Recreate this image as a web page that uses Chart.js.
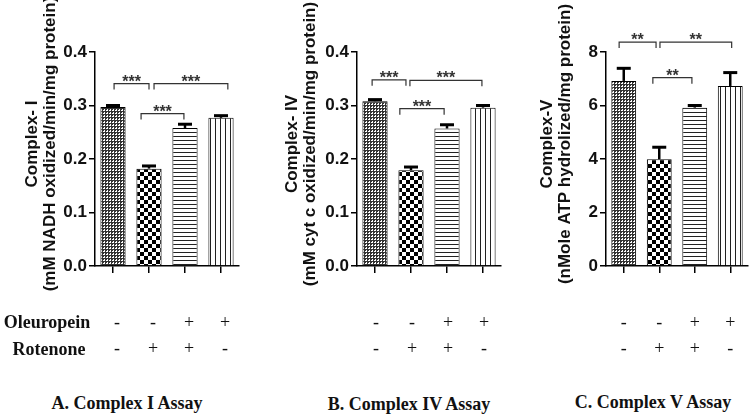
<!DOCTYPE html>
<html>
<head>
<meta charset="utf-8">
<script src="https://cdn.jsdelivr.net/npm/chart.js@4.4.1/dist/chart.umd.min.js"></script>
<style>
  html, body { margin: 0; padding: 0; background: #fff; }
  body { width: 749px; height: 416px; position: relative; overflow: hidden; }
  .pane { position: absolute; top: 0; }
  .lbl { position: absolute; font-family: 'Liberation Serif', 'Times New Roman', serif; font-weight: bold;
         font-size: 18px; line-height: 20px; color: #111; white-space: nowrap; text-align: center; }
</style>
</head>
<body>
<div class="pane" style="left:0px;"><canvas id="cA" width="250" height="366"></canvas></div>
<div class="pane" style="left:250px;"><canvas id="cB" width="255" height="366"></canvas></div>
<div class="pane" style="left:500px;"><canvas id="cC" width="249" height="366"></canvas></div>

<div class="lbl" style="left:0px; top:312px; width:94px;">Oleuropein</div>
<div class="lbl" style="left:0px; top:339px; width:98px;">Rotenone</div>
<div class="lbl" style="left:27px; top:393px; width:200px;">A. Complex I Assay</div>
<div class="lbl" style="left:309px; top:394px; width:200px;">B. Complex IV Assay</div>
<div class="lbl" style="left:553px; top:392px; width:200px;">C. Complex V Assay</div>

<script>
// ---------------- data ----------------
const groups = ['Control', 'Rotenone', 'Oleuropein + Rotenone', 'Oleuropein'];
const oleuropeinSigns = ['-', '-', '+', '+'];
const rotenoneSigns   = ['-', '+', '+', '-'];

const complexI    = [0.297, 0.182, 0.258, 0.277];
const complexIErr = [0.003, 0.005, 0.007, 0.004];

const complexIV    = [0.308, 0.179, 0.257, 0.296];
const complexIVErr = [0.003, 0.006, 0.007, 0.004];

const complexV    = [6.92, 3.99, 5.92, 6.73];
const complexVErr = [0.47, 0.45, 0.08, 0.50];

const yTitleI  = ['Complex- I',  '(mM NADH oxidized/min/mg protein)'];
const yTitleIV = ['Complex- IV', '(mM cyt c oxidized/min/mg protein)'];
const yTitleV  = ['Complex-V',   '(nMole ATP hydrolized/mg protein)'];

// significance brackets: from group position, to group position, height (data units), label
const sigI  = [[0.03, 1.00, 0.341, '***'], [0.78, 1.97, 0.285, '***'], [1.14, 3.19, 0.341, '***']];
const sigIV = [[-0.08, 0.86, 0.348, '***'], [0.69, 1.92, 0.294, '***'], [0.97, 2.97, 0.347, '***']];
const sigV  = [[-0.13, 0.91, 8.37, '**'], [0.82, 1.92, 7.04, '**'], [1.02, 3.04, 8.37, '**']];

// ---------------- patterns ----------------
function makePattern(w, h, draw) {
  const c = document.createElement('canvas');
  c.width = w; c.height = h;
  const g = c.getContext('2d');
  g.fillStyle = '#fff'; g.fillRect(0, 0, w, h);
  draw(g);
  return g.createPattern(c, 'repeat');
}
const patFine = makePattern(3, 3, g => { g.fillStyle = '#333'; g.fillRect(0, 0, 3, 1); g.fillRect(0, 0, 1, 3); g.fillRect(1, 1, 1, 1); });
const patCoarse = makePattern(8, 8, g => { g.fillStyle = '#000'; g.fillRect(0, 0, 4, 4); g.fillRect(4, 4, 4, 4); });
const patHoriz = makePattern(4, 4, g => { g.fillStyle = '#222'; g.fillRect(0, 0, 4, 1); });
const patVert = makePattern(5, 4, g => { g.fillStyle = '#222'; g.fillRect(0, 0, 1, 4); });
const barPatterns = [patFine, patCoarse, patHoriz, patVert];

const signLabels = groups.map((g, i) => [oleuropeinSigns[i], rotenoneSigns[i]]);

// ---------------- plugins ----------------
function errorBarPlugin(errs) {
  return {
    id: 'errbars',
    afterDatasetsDraw(chart) {
      const ctx = chart.ctx, y = chart.scales.y;
      const meta = chart.getDatasetMeta(0);
      const vals = chart.data.datasets[0].data;
      ctx.save();
      ctx.strokeStyle = '#000';
      meta.data.forEach((el, i) => {
        const top = y.getPixelForValue(vals[i] + errs[i]);
        ctx.lineWidth = 2.5;
        ctx.beginPath(); ctx.moveTo(el.x, el.y); ctx.lineTo(el.x, top); ctx.stroke();
        ctx.lineWidth = 3;
        ctx.beginPath(); ctx.moveTo(el.x - 7, top); ctx.lineTo(el.x + 7, top); ctx.stroke();
      });
      ctx.restore();
    }
  };
}
function bracketPlugin(sigs) {
  return {
    id: 'brackets',
    afterDraw(chart) {
      const ctx = chart.ctx, xs = chart.scales.x, ys = chart.scales.y;
      ctx.save();
      ctx.strokeStyle = '#333'; ctx.fillStyle = '#333'; ctx.lineWidth = 1.2;
      ctx.font = 'bold 16px "Liberation Sans", Arial, sans-serif';
      ctx.textAlign = 'center'; ctx.textBaseline = 'alphabetic';
      sigs.forEach(([a, b, v, lab]) => {
        const x0 = xs.getPixelForValue(a), x1 = xs.getPixelForValue(b), yy = ys.getPixelForValue(v);
        ctx.beginPath();
        ctx.moveTo(x0, yy + 6); ctx.lineTo(x0, yy); ctx.lineTo(x1, yy); ctx.lineTo(x1, yy + 6);
        ctx.stroke();
        ctx.fillText(lab, (x0 + x1) / 2, yy + 3);
      });
      ctx.restore();
    }
  };
}
const titleShift = {
  id: 'titleShift',
  afterLayout(chart) {
    const s = chart.scales.y;
    if (s._shiftWrapped) return;
    const orig = s.drawTitle.bind(s);
    s.drawTitle = function () {
      const t = s.top, b = s.bottom;
      s.top -= 15; s.bottom -= 15;
      orig();
      s.top = t; s.bottom = b;
    };
    s._shiftWrapped = true;
  }
};

// ---------------- charts ----------------
function buildChart(id, o) {
  new Chart(document.getElementById(id), {
    type: 'bar',
    data: {
      labels: signLabels,
      datasets: [{
        data: o.values,
        backgroundColor: barPatterns,
        borderColor: '#000',
        borderWidth: 1,
        barPercentage: 0.7,
        categoryPercentage: 1
      }]
    },
    options: {
      responsive: false,
      animation: false,
      devicePixelRatio: 1,
      layout: { padding: { left: o.padL, right: o.padR, top: 52, bottom: 0 } },
      plugins: { legend: { display: false }, tooltip: { enabled: false } },
      scales: {
        x: {
          grid: { offset: false, drawOnChartArea: false, drawTicks: true, tickLength: 7, color: '#000', lineWidth: 1.5 },
          border: { color: '#000', width: 1.5 },
          ticks: { font: { family: '"Liberation Serif", "Times New Roman", serif', size: 18, lineHeight: 1.45 },
                   color: '#111', padding: 37, maxRotation: 0, autoSkip: false, labelOffset: o.lblOff },
          afterFit(s) { s.height = 100; s.paddingLeft = 0; s.paddingRight = 0; }
        },
        y: {
          min: 0, max: o.max,
          ticks: { stepSize: o.step, callback: o.fmt,
                   font: { family: '"Liberation Sans", Arial, sans-serif', size: 17, weight: 'bold' },
                   color: '#111', padding: 2 },
          grid: { drawOnChartArea: false, tickLength: 6, color: '#000', lineWidth: 1.5 },
          border: { color: '#000', width: 1.5 },
          title: { display: true, text: o.title, color: '#111', padding: { top: 0, bottom: 0 },
                   font: { family: '"Liberation Sans", Arial, sans-serif', size: 17, weight: 'bold', lineHeight: 18 / 17 } },
          afterFit(s) { s.width = o.yW; }
        }
      }
    },
    plugins: [errorBarPlugin(o.errs), bracketPlugin(o.sigs), titleShift]
  });
}

const fmt1 = v => Number(v).toFixed(1);
const fmt0 = v => String(v);

buildChart('cA', { values: complexI, errs: complexIErr, sigs: sigI, title: yTitleI,
  max: 0.4, step: 0.1, fmt: fmt1, padL: 23, yW: 72, padR: 11, lblOff: 4 });
buildChart('cB', { values: complexIV, errs: complexIVErr, sigs: sigIV, title: yTitleIV,
  max: 0.4, step: 0.1, fmt: fmt1, padL: 33, yW: 74, padR: 4, lblOff: 1 });
buildChart('cC', { values: complexV, errs: complexVErr, sigs: sigV, title: yTitleV,
  max: 8, step: 2, fmt: fmt0, padL: 38, yW: 68, padR: 1, lblOff: 0 });
</script>
</body>
</html>
